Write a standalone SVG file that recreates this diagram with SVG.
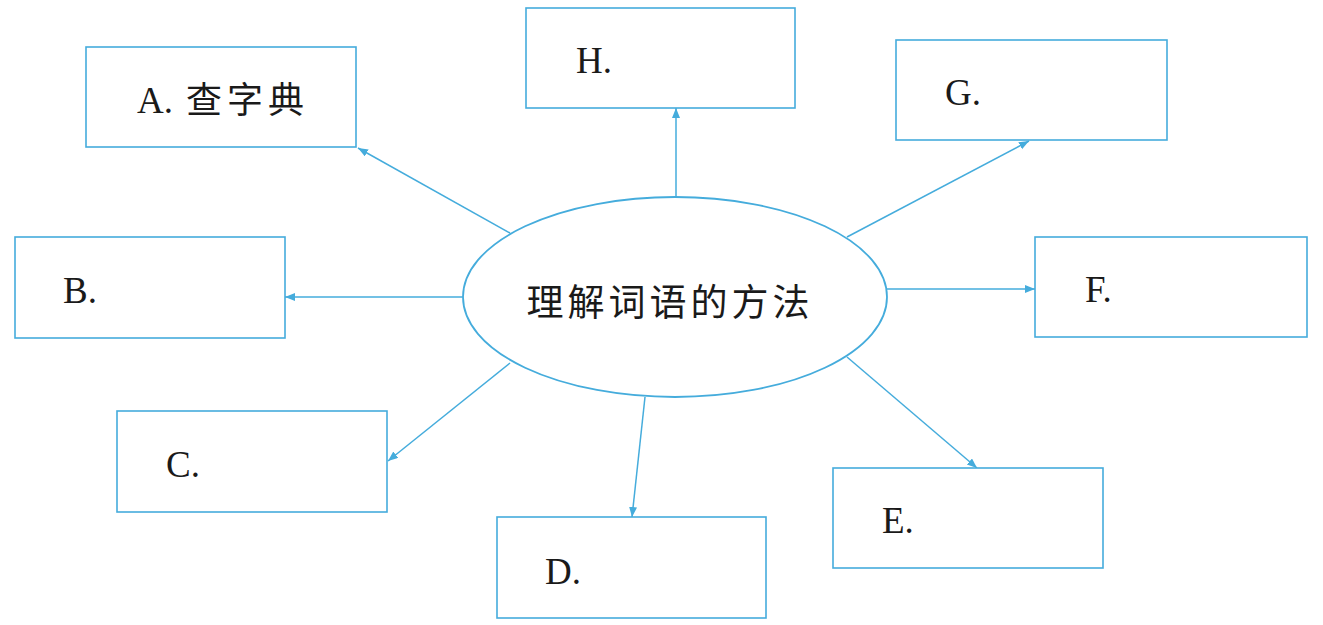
<svg xmlns="http://www.w3.org/2000/svg" width="1323" height="625" viewBox="0 0 1323 625">
<style>
.box{fill:#fff;stroke:#45acdc;stroke-width:1.6}
.ell{fill:#fff;stroke:#45acdc;stroke-width:1.8}
.lbl{font-family:"Liberation Serif","Noto Sans CJK SC",serif;font-size:37px;fill:#1a1a1a}
.cjk{font-family:"Noto Sans CJK SC",sans-serif;fill:#1a1a1a}
.con{stroke:#45acdc;stroke-width:1.5;fill:none;marker-end:url(#ah)}
</style>
<defs>
<marker id="ah" markerUnits="userSpaceOnUse" markerWidth="11" markerHeight="9" refX="10" refY="4" orient="auto">
<path d="M0,0 L10,4 L0,8 Z" fill="#45acdc"/>
</marker>
</defs>
<rect width="1323" height="625" fill="#fff"/>
<g id="connectors">
<line class="con" x1="510" y1="233" x2="358" y2="148"/>
<line class="con" x1="676" y1="197" x2="676" y2="108"/>
<line class="con" x1="847" y1="237" x2="1029" y2="141"/>
<line class="con" x1="463" y1="297" x2="285" y2="297"/>
<line class="con" x1="887" y1="289" x2="1035" y2="289"/>
<line class="con" x1="510" y1="363" x2="388" y2="461"/>
<line class="con" x1="645" y1="397" x2="632" y2="517"/>
<line class="con" x1="847" y1="357" x2="977" y2="468"/>
</g>
<g id="center">
<ellipse class="ell" cx="675" cy="297" rx="212" ry="100"/>
<text class="cjk" x="670" y="316" font-size="37" letter-spacing="4" text-anchor="middle">理解词语的方法</text>
</g>
<g id="nodeA">
<rect class="box" x="86" y="47" width="270" height="100"/>
<text class="lbl" x="137" y="113">A.</text>
<text class="cjk" x="186" y="113" font-size="36" letter-spacing="5">查字典</text>
</g>
<g id="nodeH">
<rect class="box" x="526" y="8" width="269" height="100"/>
<text class="lbl" x="576" y="73">H.</text>
</g>
<g id="nodeG">
<rect class="box" x="896" y="40" width="271" height="100"/>
<text class="lbl" x="945" y="105">G.</text>
</g>
<g id="nodeB">
<rect class="box" x="15" y="237" width="270" height="101"/>
<text class="lbl" x="63" y="303">B.</text>
</g>
<g id="nodeF">
<rect class="box" x="1035" y="237" width="272" height="100"/>
<text class="lbl" x="1085" y="302">F.</text>
</g>
<g id="nodeC">
<rect class="box" x="117" y="411" width="270" height="101"/>
<text class="lbl" x="166" y="477">C.</text>
</g>
<g id="nodeD">
<rect class="box" x="497" y="517" width="269" height="101"/>
<text class="lbl" x="545" y="584">D.</text>
</g>
<g id="nodeE">
<rect class="box" x="833" y="468" width="270" height="100"/>
<text class="lbl" x="882" y="533">E.</text>
</g>
</svg>
